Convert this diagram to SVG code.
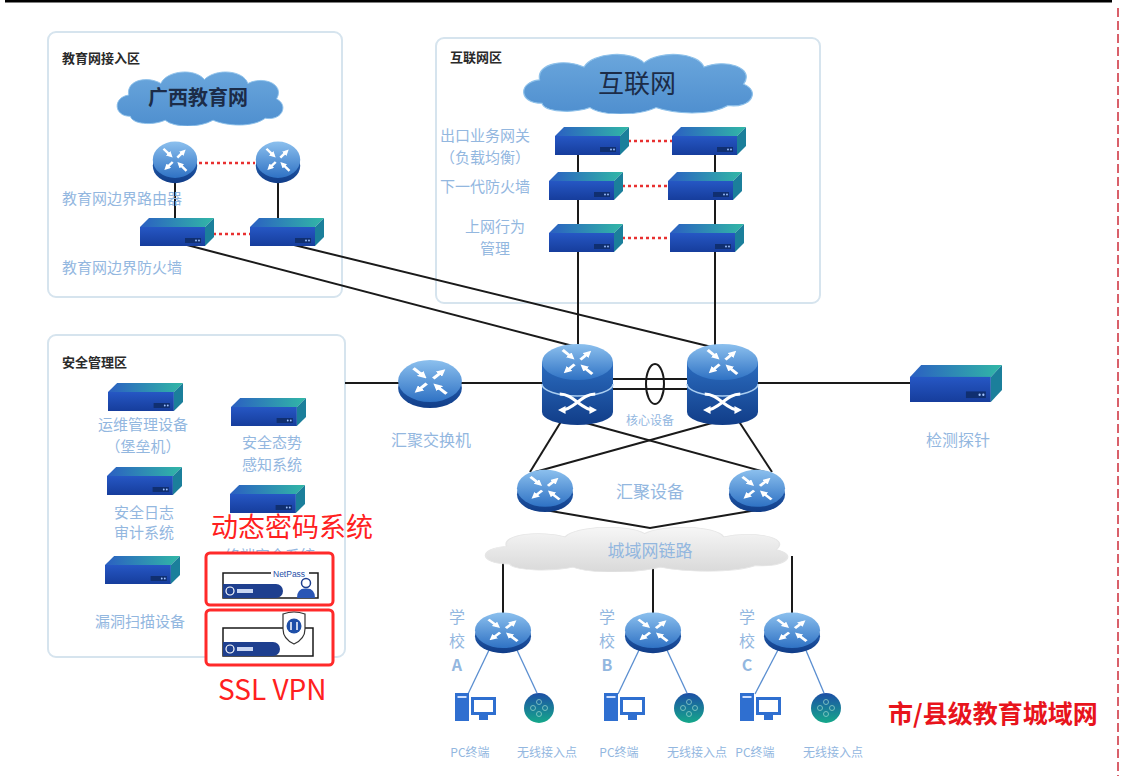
<svg xmlns="http://www.w3.org/2000/svg" width="1124" height="776" viewBox="0 0 1124 776">
<style>
  .zone { fill: #ffffff; stroke: #d6e4ee; stroke-width: 2; }
  .zt { font-family: "Noto Sans CJK SC", sans-serif; font-size: 13px; font-weight: bold; fill: #2a2a2a; }
  .lb { font-family: "Noto Sans CJK SC", sans-serif; font-size: 15px; fill: #93b7df; }
  .lbm { font-family: "Noto Sans CJK SC", sans-serif; font-size: 16px; fill: #93b7df; }
  .lbs { font-family: "Noto Sans CJK SC", sans-serif; font-size: 12px; fill: #93b7df; }
  .ln { stroke: #1a1a1a; stroke-width: 2; fill: none; }
  .dot { stroke: #e83030; stroke-width: 2.5; stroke-dasharray: 3 3; fill: none; }
  .thin { stroke: #5a8ed0; stroke-width: 1.3; fill: none; }
  .redbox { fill: #ffffff; stroke: #ff2a2a; stroke-width: 3; }
  .red { font-family: "Noto Sans CJK SC", sans-serif; fill: #ff2020; }
  .pc { fill: #2f6fd0; }
</style>
<defs>
  <linearGradient id="gTop" x1="0" y1="0" x2="0" y2="1">
    <stop offset="0" stop-color="#8cc0ee"/>
    <stop offset="1" stop-color="#2f72c4"/>
  </linearGradient>
  <linearGradient id="gSide" x1="0" y1="0" x2="0" y2="1">
    <stop offset="0" stop-color="#2b6cbf"/>
    <stop offset="1" stop-color="#113d88"/>
  </linearGradient>
  <linearGradient id="gBoxTop" x1="0" y1="0" x2="1" y2="0">
    <stop offset="0" stop-color="#2b5fc2"/>
    <stop offset="1" stop-color="#31b8a6"/>
  </linearGradient>
  <linearGradient id="gBoxFront" x1="0" y1="0" x2="0" y2="1">
    <stop offset="0" stop-color="#2657c4"/>
    <stop offset="1" stop-color="#163d9c"/>
  </linearGradient>
  <linearGradient id="gCloud" x1="0" y1="0" x2="0" y2="1">
    <stop offset="0" stop-color="#6aa6dc"/>
    <stop offset="1" stop-color="#4f8fcf"/>
  </linearGradient>
  <linearGradient id="gGray" x1="0" y1="0" x2="0" y2="1">
    <stop offset="0" stop-color="#f6f6f6"/>
    <stop offset="1" stop-color="#d9d9d9"/>
  </linearGradient>
  <linearGradient id="gAp" x1="0" y1="0" x2="0" y2="1">
    <stop offset="0" stop-color="#1d4fa6"/>
    <stop offset="1" stop-color="#15a88a"/>
  </linearGradient>
  <marker id="wh" viewBox="0 0 10 10" refX="5" refY="5" markerWidth="2.6" markerHeight="2.6" orient="auto">
    <path d="M0,0 L10,5 L0,10 z" fill="#ffffff"/>
  </marker>
  <!-- white router arrows: two out, two in -->
  <g id="xarrows" stroke="#ffffff" stroke-width="3.2" fill="none">
    <line x1="3" y1="-3" x2="11" y2="-11" marker-end="url(#wh)"/>
    <line x1="-3" y1="3" x2="-11" y2="11" marker-end="url(#wh)"/>
    <line x1="-15" y1="-15" x2="-6" y2="-6" marker-end="url(#wh)"/>
    <line x1="15" y1="15" x2="6" y2="6" marker-end="url(#wh)"/>
  </g>
  <symbol id="router" viewBox="-30 -26 60 52" preserveAspectRatio="none">
    <ellipse cx="0" cy="5" rx="29" ry="20" fill="url(#gSide)"/>
    <ellipse cx="0" cy="-2" rx="29" ry="21" fill="url(#gTop)"/>
    <use href="#xarrows" transform="translate(0,-2) scale(1,0.85)"/>
  </symbol>
  <symbol id="core" viewBox="-37 -42 74 84" preserveAspectRatio="none">
    <path d="M-36,-22 V28 A36,13 0 0 0 36,28 V-22 Z" fill="url(#gSide)"/>
    <path d="M-36,0 A36,12 0 0 0 36,0" stroke="#a9cdf0" stroke-width="1.5" fill="none"/>
    <ellipse cx="0" cy="-22" rx="36" ry="18" fill="url(#gTop)"/>
    <use href="#xarrows" transform="translate(0,-22) scale(1,0.8)"/>
    <g stroke="#ffffff" stroke-width="3" fill="none">
      <path d="M-18,10 C-4,10 4,26 16,26" marker-end="url(#wh)"/>
      <path d="M18,10 C4,10 -4,26 -16,26" marker-end="url(#wh)"/>
    </g>
  </symbol>
  <symbol id="box" viewBox="0 0 74 28" preserveAspectRatio="none">
    <polygon points="9,0 74,0 65,9 0,9" fill="url(#gBoxTop)"/>
    <rect x="0" y="9" width="65" height="19" fill="url(#gBoxFront)"/>
    <polygon points="65,9 74,0 74,19 65,28" fill="#1b7f9b"/>
    <rect x="45" y="20" width="16" height="5" fill="#102f70"/>
    <circle cx="56" cy="22.5" r="0.9" fill="#9fc2ff"/>
    <circle cx="59" cy="22.5" r="0.9" fill="#9fc2ff"/>
  </symbol>
  <symbol id="cloud" viewBox="0 0 200 60" preserveAspectRatio="none">
    <path d="M20,50 C0,50 0,30 18,28 C15,12 40,8 55,16 C62,2 95,0 105,12 C118,0 150,2 155,16 C172,8 198,16 188,32 C202,38 195,55 175,52 C160,62 130,60 115,54 C100,62 70,62 60,54 C45,60 22,58 20,50 Z"/>
  </symbol>
  <g id="pcicon">
    <rect x="0" y="0" width="14" height="28" class="pc"/>
    <rect x="2.5" y="3" width="9" height="2" fill="#cfe0ff"/>
    <rect x="17.5" y="5.5" width="22" height="15" fill="#ffffff" stroke="#2f6fd0" stroke-width="3"/>
    <rect x="24" y="22" width="9" height="5" class="pc"/>
  </g>
  <g id="apicon">
    <circle cx="0" cy="0" r="15" fill="url(#gAp)"/>
    <g stroke="#8fd0c8" stroke-width="1" fill="none" opacity="0.8">
      <circle cx="0" cy="-6" r="2.5"/><circle cx="0" cy="6" r="2.5"/>
      <circle cx="-6" cy="0" r="2.5"/><circle cx="6" cy="0" r="2.5"/>
    </g>
  </g>
</defs>

<rect x="0" y="0" width="1124" height="776" fill="#ffffff"/>
<!-- page frame marks -->
<rect x="5" y="0" width="1107" height="2.5" fill="#000000"/>
<line x1="1118" y1="8" x2="1118" y2="776" stroke="#d9606a" stroke-width="2" stroke-dasharray="9 4"/>

<!-- zones -->
<g id="zone-edu">
  <rect class="zone" x="48" y="32" width="294" height="265" rx="8"/>
  <text class="zt" x="62" y="63">教育网接入区</text>
</g>
<g id="zone-internet">
  <rect class="zone" x="436" y="38" width="384" height="265" rx="8"/>
  <text class="zt" x="450" y="62">互联网区</text>
</g>
<g id="zone-sec">
  <rect class="zone" x="48" y="335" width="297" height="322" rx="8"/>
  <text class="zt" x="62" y="367">安全管理区</text>
</g>

<!-- connectors -->
<g id="connectors">
  <line class="ln" x1="175" y1="180" x2="175" y2="222"/>
  <line class="ln" x1="278" y1="180" x2="278" y2="222"/>
  <line class="dot" x1="199" y1="163" x2="255" y2="163"/>
  <line class="dot" x1="213" y1="234" x2="250" y2="234"/>
  <line class="ln" x1="187" y1="245" x2="573" y2="346"/>
  <line class="ln" x1="294" y1="245" x2="716" y2="348"/>
  <line class="ln" x1="578" y1="150" x2="578" y2="346"/>
  <line class="ln" x1="715" y1="150" x2="715" y2="348"/>
  <line class="dot" x1="628" y1="141" x2="672" y2="141"/>
  <line class="dot" x1="622" y1="186" x2="668" y2="186"/>
  <line class="dot" x1="622" y1="238" x2="670" y2="238"/>
  <line class="ln" x1="345" y1="383" x2="545" y2="383"/>
  <line class="ln" x1="610" y1="379" x2="690" y2="379"/>
  <line class="ln" x1="610" y1="389" x2="690" y2="389"/>
  <line class="ln" x1="755" y1="383" x2="914" y2="383"/>
  <ellipse cx="655" cy="384" rx="9" ry="20" fill="none" stroke="#1a1a1a" stroke-width="2"/>
  <line class="ln" x1="562" y1="420" x2="530" y2="472"/>
  <line class="ln" x1="586" y1="423" x2="765" y2="472"/>
  <line class="ln" x1="712" y1="423" x2="535" y2="472"/>
  <line class="ln" x1="738" y1="420" x2="772" y2="472"/>
  <polyline class="ln" points="545,510 650,528 757,510"/>
  <line class="ln" x1="503" y1="558" x2="503" y2="614"/>
  <line class="ln" x1="653" y1="566" x2="653" y2="614"/>
  <line class="ln" x1="792" y1="556" x2="792" y2="614"/>
  <line class="thin" x1="490" y1="648" x2="468" y2="694"/>
  <line class="thin" x1="516" y1="648" x2="537" y2="693"/>
  <line class="thin" x1="640" y1="648" x2="618" y2="694"/>
  <line class="thin" x1="666" y1="648" x2="687" y2="693"/>
  <line class="thin" x1="779" y1="648" x2="755" y2="694"/>
  <line class="thin" x1="805" y1="648" x2="824" y2="693"/>
</g>

<!-- education network access -->
<g id="cloud-edu">
  <use href="#cloud" x="113" y="68" width="174" height="58" fill="url(#gCloud)" stroke="#8ec1ea" stroke-width="1"/>
  <text x="198" y="105" text-anchor="middle" font-family="Noto Sans CJK SC, sans-serif" font-size="20" font-weight="bold" fill="#1c2c48">广西教育网</text>
</g>
<g id="edu-router-1"><use href="#router" x="152" y="139" width="46" height="45"/></g>
<g id="edu-router-2"><use href="#router" x="255" y="139" width="46" height="45"/></g>
<g id="edu-router-label"><text class="lb" x="62" y="204">教育网边界路由器</text></g>
<g id="edu-fw-1"><use href="#box" x="140" y="218" width="74" height="28"/></g>
<g id="edu-fw-2"><use href="#box" x="250" y="218" width="74" height="28"/></g>
<g id="edu-fw-label"><text class="lb" x="62" y="273">教育网边界防火墙</text></g>

<!-- internet zone -->
<g id="cloud-internet">
  <use href="#cloud" x="518" y="50" width="240" height="64" fill="url(#gCloud)" stroke="#8ec1ea" stroke-width="1"/>
  <text x="637" y="93" text-anchor="middle" font-family="Noto Sans CJK SC, sans-serif" font-size="26" fill="#1c2c48">互联网</text>
</g>
<g id="gw-1"><use href="#box" x="555" y="127" width="74" height="28"/></g>
<g id="gw-2"><use href="#box" x="672" y="127" width="74" height="28"/></g>
<g id="gw-label">
  <text class="lb" x="440" y="141">出口业务网关</text>
  <text class="lb" x="440" y="163">（负载均衡）</text>
</g>
<g id="ngfw-1"><use href="#box" x="549" y="172" width="74" height="28"/></g>
<g id="ngfw-2"><use href="#box" x="668" y="172" width="74" height="28"/></g>
<g id="ngfw-label"><text class="lb" x="440" y="192">下一代防火墙</text></g>
<g id="bm-1"><use href="#box" x="549" y="224" width="74" height="28"/></g>
<g id="bm-2"><use href="#box" x="670" y="224" width="74" height="28"/></g>
<g id="bm-label">
  <text class="lb" x="495" y="232" text-anchor="middle">上网行为</text>
  <text class="lb" x="495" y="254" text-anchor="middle">管理</text>
</g>

<!-- security management zone -->
<g id="sec-bastion">
  <use href="#box" x="108" y="383" width="75" height="28"/>
  <text class="lb" x="143" y="430" text-anchor="middle">运维管理设备</text>
  <text class="lb" x="143" y="452" text-anchor="middle">（堡垒机）</text>
</g>
<g id="sec-situation">
  <use href="#box" x="231" y="398" width="75" height="28"/>
  <text class="lb" x="272" y="448" text-anchor="middle">安全态势</text>
  <text class="lb" x="272" y="470" text-anchor="middle">感知系统</text>
</g>
<g id="sec-log">
  <use href="#box" x="107" y="467" width="75" height="28"/>
  <text class="lb" x="144" y="518" text-anchor="middle">安全日志</text>
  <text class="lb" x="144" y="538" text-anchor="middle">审计系统</text>
</g>
<g id="sec-terminal">
  <use href="#box" x="230" y="485" width="75" height="28"/>
  <text class="lb" x="270" y="561" text-anchor="middle">终端安全系统</text>
</g>
<g id="sec-scan">
  <use href="#box" x="105" y="556" width="75" height="28"/>
  <text class="lb" x="140" y="627" text-anchor="middle">漏洞扫描设备</text>
</g>

<!-- dynamic password and SSL VPN -->
<g id="otp-system">
  <rect class="redbox" x="206" y="553" width="127" height="52" rx="4"/>
  <path d="M271,573 H223 V598 H318 V573 H309" fill="none" stroke="#1a1a1a" stroke-width="1.5"/>
  <text x="273" y="577" font-family="Liberation Sans, sans-serif" font-size="8.5" fill="#1f4fa8">NetPass</text>
  <path d="M223,584 H276 A7,7 0 0 1 276,598 H223 Z" fill="#1e3f8f"/>
  <circle cx="230" cy="591" r="4" fill="none" stroke="#ffffff" stroke-width="1.2"/>
  <rect x="237" y="589" width="16" height="4" fill="#c9d6f2"/>
  <circle cx="306" cy="583" r="4.5" fill="#ffffff" stroke="#1e3f8f" stroke-width="1.5"/>
  <path d="M297,598 Q297,588 306,588.5 Q315,588 315,598 Z" fill="#2a56b5"/>
  <text class="red" x="211" y="537" font-size="27">动态密码系统</text>
</g>
<g id="ssl-vpn">
  <rect class="redbox" x="206" y="610" width="127" height="55" rx="4"/>
  <path d="M283,628 H223 V656 H313 V628 H305" fill="none" stroke="#1a1a1a" stroke-width="1.5"/>
  <path d="M223,642 H273 A7,7 0 0 1 273,656 H223 Z" fill="#1e3f8f"/>
  <circle cx="230" cy="649" r="4" fill="none" stroke="#ffffff" stroke-width="1.2"/>
  <rect x="237" y="647" width="16" height="4" fill="#c9d6f2"/>
  <path d="M283,614 Q294,610 305,614 L305,629 Q305,639 294,644 Q283,639 283,629 Z" fill="#ffffff" stroke="#333333" stroke-width="1.2"/>
  <circle cx="294" cy="626" r="7.5" fill="#1e4fa8"/>
  <path d="M291,622 V630 M297,622 V630" stroke="#ffffff" stroke-width="1.5"/>
  <text class="red" x="218" y="700" font-family="Open Sans, sans-serif" font-size="28">SSL VPN</text>
</g>

<!-- core area -->
<g id="agg-switch">
  <use href="#router" x="397" y="357" width="66" height="52"/>
  <text class="lbm" x="431" y="446" text-anchor="middle">汇聚交换机</text>
</g>
<g id="core-1"><use href="#core" x="541" y="342" width="73" height="84"/></g>
<g id="core-2"><use href="#core" x="686" y="342" width="73" height="84"/></g>
<g id="core-label"><text class="lbs" x="650" y="425" text-anchor="middle">核心设备</text></g>
<g id="probe">
  <use href="#box" x="910" y="365" width="92" height="37"/>
  <text class="lbm" x="958" y="446" text-anchor="middle">检测探针</text>
</g>
<g id="agg-1"><use href="#router" x="516" y="467" width="58" height="46"/></g>
<g id="agg-2"><use href="#router" x="728" y="467" width="58" height="46"/></g>
<g id="agg-label"><text x="650" y="498" text-anchor="middle" font-family="Noto Sans CJK SC, sans-serif" font-size="17" fill="#93b7df">汇聚设备</text></g>

<!-- metro link -->
<g id="cloud-metro">
  <use href="#cloud" x="478" y="524" width="317" height="48" fill="url(#gGray)" stroke="#e6e6e6" stroke-width="1"/>
  <text x="650" y="557" text-anchor="middle" font-family="Noto Sans CJK SC, sans-serif" font-size="17" fill="#93b7df">城域网链路</text>
</g>

<!-- schools -->
<g id="school-a">
  <use href="#router" x="474" y="610" width="58" height="44"/>
  <text class="lbm" x="457" y="623" text-anchor="middle">学</text>
  <text class="lbm" x="457" y="647" text-anchor="middle">校</text>
  <text class="lbm" x="457" y="671" text-anchor="middle" font-weight="bold">A</text>
  <use href="#pcicon" x="455" y="693"/>
  <use href="#apicon" x="539" y="708"/>
  <text class="lbs" x="470" y="757" text-anchor="middle">PC终端</text>
  <text class="lbs" x="547" y="757" text-anchor="middle">无线接入点</text>
</g>
<g id="school-b">
  <use href="#router" x="624" y="610" width="58" height="44"/>
  <text class="lbm" x="607" y="623" text-anchor="middle">学</text>
  <text class="lbm" x="607" y="647" text-anchor="middle">校</text>
  <text class="lbm" x="607" y="671" text-anchor="middle" font-weight="bold">B</text>
  <use href="#pcicon" x="604" y="693"/>
  <use href="#apicon" x="689" y="708"/>
  <text class="lbs" x="619" y="757" text-anchor="middle">PC终端</text>
  <text class="lbs" x="697" y="757" text-anchor="middle">无线接入点</text>
</g>
<g id="school-c">
  <use href="#router" x="763" y="610" width="58" height="44"/>
  <text class="lbm" x="747" y="623" text-anchor="middle">学</text>
  <text class="lbm" x="747" y="647" text-anchor="middle">校</text>
  <text class="lbm" x="747" y="671" text-anchor="middle" font-weight="bold">C</text>
  <use href="#pcicon" x="740" y="693"/>
  <use href="#apicon" x="826" y="708"/>
  <text class="lbs" x="755" y="757" text-anchor="middle">PC终端</text>
  <text class="lbs" x="833" y="757" text-anchor="middle">无线接入点</text>
</g>

<g id="title">
  <text x="888" y="723" font-family="Noto Sans CJK SC, sans-serif" font-size="25" font-weight="bold" fill="#e8141c">市/县级教育城域网</text>
</g>
</svg>
